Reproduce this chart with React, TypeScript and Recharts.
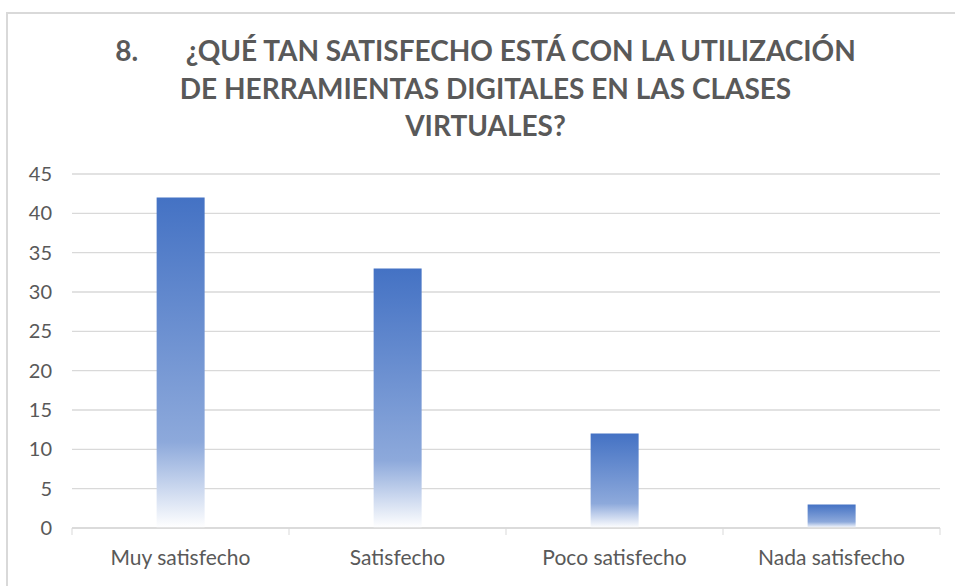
import { BarChart, Bar, XAxis, YAxis, CartesianGrid } from "recharts";

const categories = ["Muy satisfecho", "Satisfecho", "Poco satisfecho", "Nada satisfecho"];
const counts = [42, 33, 12, 3];
const yTicks = [0, 5, 10, 15, 20, 25, 30, 35, 40, 45];
const titleLines = [
  "8.       ¿QUÉ TAN SATISFECHO ESTÁ CON LA UTILIZACIÓN",
  "DE HERRAMIENTAS DIGITALES EN LAS CLASES",
  "VIRTUALES?",
];

const data = categories.map((name, i) => ({ name, value: counts[i] }));

const W = 955;
const H = 586;
const margin = { top: 174, right: 15, bottom: 0, left: 0 };
const yAxisWidth = 72;
const band = (W - margin.left - margin.right - yAxisWidth) / categories.length;

const FONT = "Lato, 'Open Sans', sans-serif";

function CategoryTick(props: any) {
  const { x, y, payload, index } = props;
  const axisY = y - 8;
  return (
    <g>
      <line x1={x - band / 2} x2={x - band / 2} y1={axisY} y2={axisY + 7} stroke="#d9d9d9" />
      {index === categories.length - 1 && (
        <line x1={x + band / 2} x2={x + band / 2} y1={axisY} y2={axisY + 7} stroke="#d9d9d9" />
      )}
      <text x={x} y={y + 29} textAnchor="middle" fill="#595959" fontSize={21} fontFamily={FONT}>
        {payload.value}
      </text>
    </g>
  );
}

export default function App() {
  return (
    <div style={{ position: "absolute", left: 0, top: 0, width: W, height: H, background: "#fff", overflow: "hidden" }}>
      <div
        style={{
          position: "absolute",
          left: 6,
          top: 12,
          width: W,
          height: H,
          border: "2px solid #d9d9d9",
        }}
      />
      <div
        style={{
          position: "absolute",
          left: 8,
          top: 32,
          width: W,
          textAlign: "center",
          fontFamily: FONT,
          fontWeight: 700,
          fontSize: 28,
          lineHeight: "37.5px",
          color: "#595959",
          whiteSpace: "pre",
        }}
      >
        {titleLines.map((t) => (
          <div key={t}>{t}</div>
        ))}
      </div>
      <div style={{ position: "absolute", left: 0, top: 0 }}>
        <BarChart width={W} height={H} data={data} margin={margin} barCategoryGap="39%">
          <defs>
            <linearGradient id="barFill" x1="0" y1="0" x2="0" y2="1">
              <stop offset="0%" stopColor="#4472C4" />
              <stop offset="74%" stopColor="#8DA9DB" />
              <stop offset="100%" stopColor="#FFFFFF" />
            </linearGradient>
          </defs>
          <CartesianGrid vertical={false} stroke="#d9d9d9" strokeWidth={1.3} />
          <XAxis
            dataKey="name"
            height={58}
            axisLine={{ stroke: "#d9d9d9", strokeWidth: 1.5 }}
            tickLine={false}
            tickSize={0}
            tickMargin={8}
            interval={0}
            tick={<CategoryTick />}
          />
          <YAxis
            width={yAxisWidth}
            domain={[0, 45]}
            ticks={yTicks}
            interval={0}
            axisLine={false}
            tickLine={false}
            tickSize={6}
            tickMargin={14}
            tick={{ fill: "#595959", fontSize: 20, fontFamily: FONT }}
          />
          <Bar dataKey="value" fill="url(#barFill)" isAnimationActive={false} />
        </BarChart>
      </div>
    </div>
  );
}
